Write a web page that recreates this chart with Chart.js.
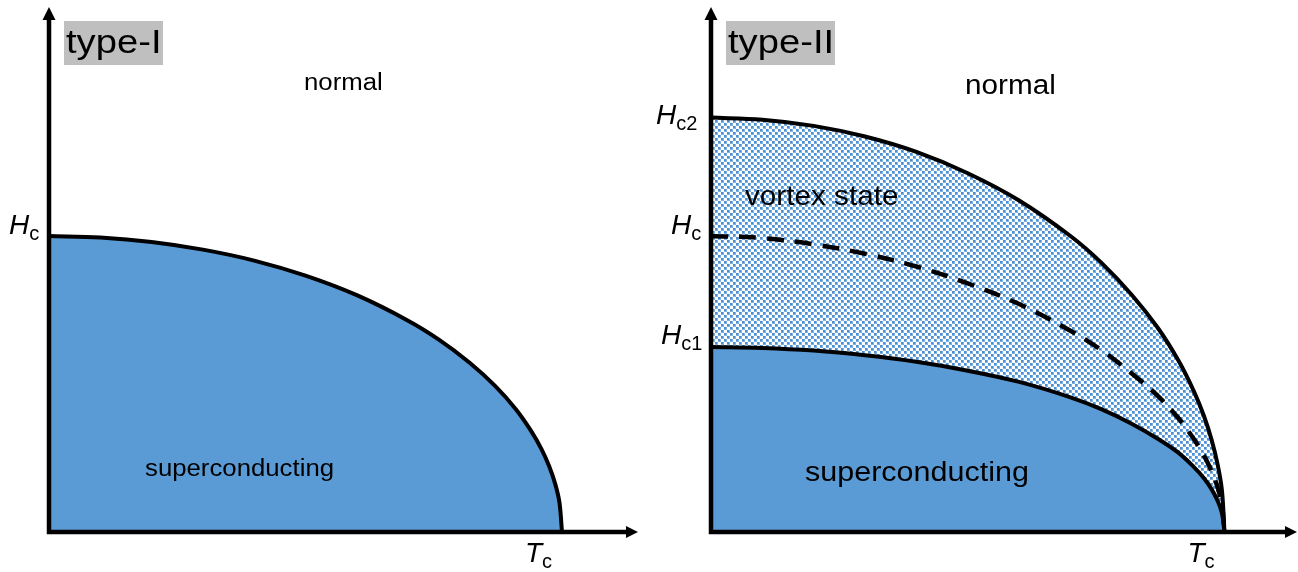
<!DOCTYPE html>
<html>
<head>
<meta charset="utf-8">
<script src="https://cdn.jsdelivr.net/npm/chart.js@4/dist/chart.umd.min.js"></script>
<style>
  body { margin: 0; background: #fff; }
  #wrap { position: relative; width: 1298px; height: 572px; }
  #left-chart { position: absolute; left: 0; top: 0; }
  #right-chart { position: absolute; left: 649px; top: 0; }
</style>
</head>
<body>
<div id="wrap">
  <canvas id="left-chart" width="649" height="572"></canvas>
  <canvas id="right-chart" width="649" height="572"></canvas>
</div>
<script>
// reduced temperature T/Tc, shared by every curve
const tPts = [0, 0.1, 0.2, 0.3, 0.4, 0.5, 0.6, 0.7, 0.76, 0.82, 0.87, 0.91, 0.94, 0.96, 0.975, 0.987, 0.995, 1];
// field in units of Hc
const hcTypeI = [1.00, 0.995, 0.98, 0.954, 0.917, 0.866, 0.80, 0.714, 0.65, 0.572, 0.493, 0.415, 0.341, 0.28, 0.222, 0.161, 0.10, 0];
const hc2 = [1.40, 1.393, 1.372, 1.336, 1.284, 1.212, 1.12, 1.0, 0.91, 0.80, 0.69, 0.58, 0.477, 0.392, 0.311, 0.225, 0.14, 0];
const hcTypeII = [1.00, 0.993, 0.972, 0.94, 0.897, 0.84, 0.77, 0.68, 0.615, 0.535, 0.46, 0.385, 0.315, 0.258, 0.205, 0.148, 0.092, 0];
const hc1 = [0.625, 0.622, 0.613, 0.597, 0.575, 0.545, 0.507, 0.455, 0.415, 0.365, 0.315, 0.268, 0.22, 0.182, 0.144, 0.104, 0.064, 0];

const BLUE = '#5b9bd5';
const FONT = "'Liberation Sans', Arial, sans-serif";

const toPts = (ys) => tPts.map((t, i) => ({ x: t, y: ys[i] }));

// dotted fill for the vortex state
const makePattern = () => {
	let c = document.createElement('canvas');
	c.width = 6; c.height = 6;
	let g = c.getContext('2d');
	[[0, 0], [3, 3]].forEach(p => {
		g.fillStyle = '#7fb1e3';
		g.fillRect(p[0], p[1], 3, 3);
		g.fillStyle = '#4a8ed4';
		g.fillRect(p[0], p[1], 2, 2);
	});
	return g.createPattern(c, 'repeat');
};

const txt = (ctx, s, x, y, size, sx, italic) => {
	ctx.save();
	ctx.font = (italic ? 'italic ' : '') + size + 'px ' + FONT;
	ctx.fillStyle = '#000';
	ctx.textBaseline = 'alphabetic';
	ctx.translate(x, y);
	ctx.scale(sx, 1);
	ctx.fillText(s, 0, 0);
	let w = ctx.measureText(s).width * sx;
	ctx.restore();
	return w;
};

// italic symbol with upright subscript
const symbol = (ctx, main, sub, x, y) => {
	let w = txt(ctx, main, x, y, 28, 1, true);
	txt(ctx, sub, x + w, y + 6, 20, 1, false);
};

const drawAxes = (ctx, ox, oy, tipX) => {
	ctx.save();
	ctx.strokeStyle = '#000';
	ctx.fillStyle = '#000';
	ctx.lineWidth = 4.5;
	ctx.beginPath();
	ctx.moveTo(ox, oy + 2.25);
	ctx.lineTo(ox, 19);
	ctx.moveTo(ox - 2.25, oy);
	ctx.lineTo(tipX - 11, oy);
	ctx.stroke();
	ctx.beginPath();
	ctx.moveTo(ox, 7);
	ctx.lineTo(ox - 6.5, 20);
	ctx.lineTo(ox + 6.5, 20);
	ctx.closePath();
	ctx.fill();
	ctx.beginPath();
	ctx.moveTo(tipX, oy);
	ctx.lineTo(tipX - 12, oy - 6);
	ctx.lineTo(tipX - 12, oy + 6);
	ctx.closePath();
	ctx.fill();
	ctx.restore();
};

const typeBox = (ctx, label, x, w) => {
	ctx.save();
	ctx.fillStyle = '#bfbfbf';
	ctx.fillRect(x, 21, w, 44);
	ctx.restore();
	txt(ctx, label, x + 2, 53, 33.5, 1.14, false);
};

const baseOptions = (pad, xMax, yMax) => ({
	responsive: false,
	animation: false,
	layout: { padding: pad },
	scales: {
		x: { type: 'linear', min: 0, max: xMax, display: false },
		y: { type: 'linear', min: 0, max: yMax, display: false }
	},
	elements: { point: { radius: 0 } },
	plugins: { legend: { display: false }, tooltip: { enabled: false } }
});

const curve = (ys, extra) => Object.assign({
	data: toPts(ys),
	borderColor: '#000',
	borderWidth: 4,
	tension: 0.35,
	pointRadius: 0
}, extra);

// ---- type-I ----
const leftLabels = {
	id: 'leftLabels',
	afterDatasetsDraw(chart) {
		const ctx = chart.ctx;
		const xs = chart.scales.x, ys = chart.scales.y;
		const ox = xs.getPixelForValue(0), oy = ys.getPixelForValue(0);
		const tc = xs.getPixelForValue(1);
		drawAxes(ctx, ox, oy, chart.chartArea.right);
		typeBox(ctx, 'type-I', ox + 15, 99);
		txt(ctx, 'normal', 304, 90, 23, 1.12, false);
		txt(ctx, 'superconducting', 145, 476, 23, 1.12, false);
		symbol(ctx, 'H', 'c', ox - 40, ys.getPixelForValue(hcTypeI[0]) - 2);
		symbol(ctx, 'T', 'c', tc - 37, 562);
	}
};

new Chart(document.getElementById('left-chart'), {
	type: 'line',
	data: {
		datasets: [
			curve(hcTypeI, { fill: 'origin', backgroundColor: BLUE })
		]
	},
	options: baseOptions({ left: 49, right: 11, top: 7, bottom: 40 }, 589 / 513, 525 / 296),
	plugins: [leftLabels]
});

// ---- type-II ----
const rightLabels = {
	id: 'rightLabels',
	afterDatasetsDraw(chart) {
		const ctx = chart.ctx;
		const xs = chart.scales.x, ys = chart.scales.y;
		const ox = xs.getPixelForValue(0), oy = ys.getPixelForValue(0);
		const tc = xs.getPixelForValue(1);
		drawAxes(ctx, ox, oy, chart.chartArea.right);
		typeBox(ctx, 'type-II', ox + 15, 109);
		txt(ctx, 'normal', 965 - 649, 94, 27, 1.1, false);
		txt(ctx, 'vortex state', 745 - 649, 205, 28, 1.06, false);
		txt(ctx, 'superconducting', 805 - 649, 481, 27, 1.13, false);
		symbol(ctx, 'H', 'c2', ox - 55, ys.getPixelForValue(hc2[0]) + 6);
		symbol(ctx, 'H', 'c', ox - 40, ys.getPixelForValue(hcTypeII[0]) - 2);
		symbol(ctx, 'H', 'c1', ox - 50, ys.getPixelForValue(hc1[0]) - 3);
		symbol(ctx, 'T', 'c', tc - 37, 562);
	}
};

new Chart(document.getElementById('right-chart'), {
	type: 'line',
	data: {
		datasets: [
			curve(hc2, { fill: 2, backgroundColor: makePattern(), order: 2 }),
			curve(hcTypeII, { fill: false, borderDash: [17, 11], borderWidth: 4.5, order: 0 }),
			curve(hc1, { fill: 'origin', backgroundColor: BLUE, order: 1 })
		]
	},
	options: baseOptions({ left: 62, right: 1, top: 7, bottom: 40 }, 586 / 513.5, 525 / 296),
	plugins: [rightLabels]
});
</script>
</body>
</html>
